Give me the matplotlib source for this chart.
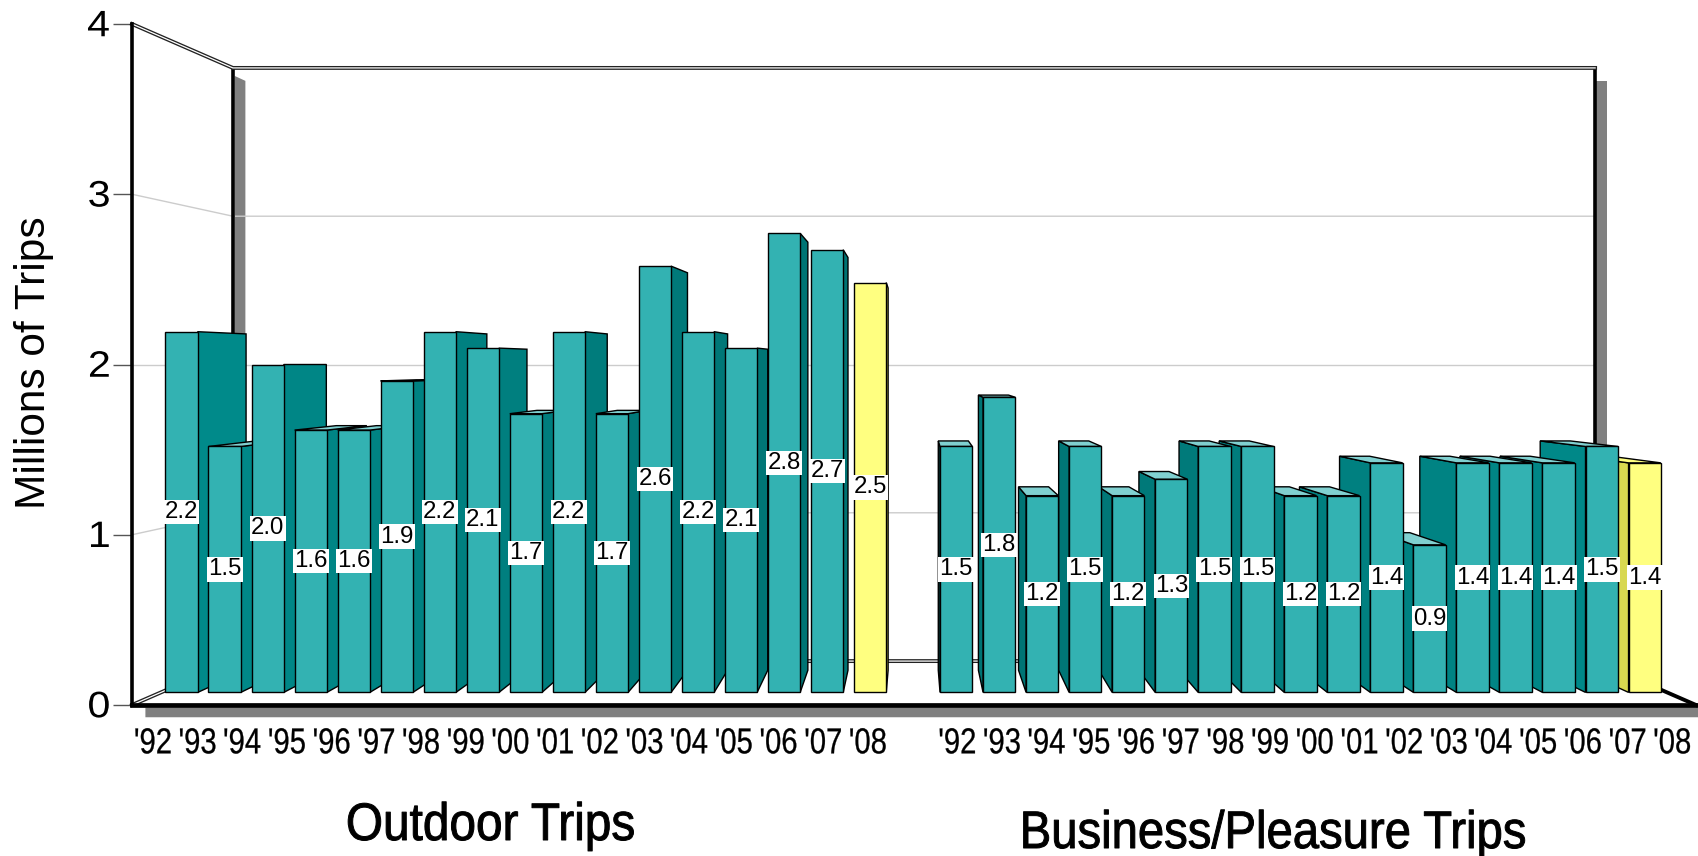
import matplotlib
matplotlib.use("Agg")
import matplotlib.pyplot as plt
from matplotlib.colors import to_rgb
from matplotlib.font_manager import FontProperties
from matplotlib.text import Text
from matplotlib.textpath import TextPath
from matplotlib.transforms import Affine2D

SANS = "Liberation Sans"

years = ["'92", "'93", "'94", "'95", "'96", "'97", "'98", "'99", "'00",
         "'01", "'02", "'03", "'04", "'05", "'06", "'07", "'08"]
outdoor_trips = [2.2, 1.5, 2.0, 1.6, 1.6, 1.9, 2.2, 2.1, 1.7,
                 2.2, 1.7, 2.6, 2.2, 2.1, 2.8, 2.7, 2.5]
business_trips = [1.5, 1.8, 1.2, 1.5, 1.2, 1.3, 1.5, 1.5, 1.2,
                  1.2, 1.4, 0.9, 1.4, 1.4, 1.4, 1.5, 1.4]
y_ticks = [0, 1, 2, 3, 4]

# perspective: every depth plane is the front plane scaled about the vanishing point
VP_X, VP_Y = 17, 2
WALL = 0.871
BAR_FRONT = 0.963
BAR_BACK = 0.898
BAR_WIDTH = 0.75
BAR_SHIFT = -0.02
LEFT, RIGHT = -0.5, 34.5

TEAL = "#33b2b2"
TEAL_TOP = "#80d0d0"
YELLOW = "#ffff80"
YELLOW_SIDE = "#d8d850"
SHADOW = "#808080"
GRID = "#cccccc"


class StretchedText(Text):
    # no condensed face available, so squeeze or widen the glyph outlines in x
    def __init__(self, x, y, text, sx=1.0, stroke=0.0, **kwargs):
        super().__init__(x, y, text, **kwargs)
        self.sx = sx
        self.stroke = stroke

    def _outline(self):
        path = TextPath((0, 0), self.get_text(), prop=self.get_fontproperties())
        box = path.get_extents()
        ha = self.get_horizontalalignment()
        ref = {"left": box.x0, "center": (box.x0 + box.x1) / 2, "right": box.x1}[ha]
        scale = self.get_figure().dpi / 72
        px, py = self.get_transform().transform(self.get_position())
        tr = Affine2D().translate(-ref, 0).scale(scale * self.sx, scale).translate(px, py)
        return path, tr

    def get_window_extent(self, renderer=None, dpi=None):
        path, tr = self._outline()
        return path.get_extents(tr)

    def draw(self, renderer):
        if not self.get_visible():
            return
        path, tr = self._outline()
        colour = to_rgb(self.get_color())
        gc = renderer.new_gc()
        gc.set_foreground(colour)
        gc.set_linewidth(self.stroke)
        gc.set_antialiased(True)
        renderer.draw_path(gc, path, tr, colour)
        gc.restore()


def stretched(ax, x, y, text, size, sx, ha="center", stroke=0.0):
    t = StretchedText(x, y, text, sx=sx, stroke=stroke, ha=ha, va="baseline", clip_on=False,
                      fontproperties=FontProperties(family=SANS, size=size),
                      transform=ax.transData, zorder=50)
    ax.add_artist(t)
    return t


def project(x, y, s):
    return VP_X + (x - VP_X) * s, VP_Y + (y - VP_Y) * s


def side_colour(slot):
    # side faces get lighter away from the middle of the chart
    g = int(0x70 + (0x8a - 0x70) * min(abs(slot - VP_X) / 17, 1))
    return "#00%02x%02x" % (g, g)


def poly(ax, points, colour, z):
    xs, ys = zip(*points)
    ax.fill(xs, ys, facecolor=colour, edgecolor="black", linewidth=1.0,
            zorder=z, clip_on=False)


def draw_bar(ax, slot, value, front_colour, top_colour, side, z):
    mid = slot + BAR_SHIFT
    l = mid - BAR_WIDTH / 2
    r = mid + BAR_WIDTH / 2
    # the side facing the middle of the chart is the one that shows
    edge = r if slot < VP_X else l
    poly(ax, [project(edge, 0, BAR_FRONT), project(edge, 0, BAR_BACK),
              project(edge, value, BAR_BACK), project(edge, value, BAR_FRONT)],
         side, z)
    if value < VP_Y:
        poly(ax, [project(l, value, BAR_FRONT), project(r, value, BAR_FRONT),
                  project(r, value, BAR_BACK), project(l, value, BAR_BACK)],
             top_colour, z)
    poly(ax, [project(l, 0, BAR_FRONT), project(r, 0, BAR_FRONT),
              project(r, value, BAR_FRONT), project(l, value, BAR_FRONT)],
         front_colour, z + 0.1)
    lx, ly = project(mid, value / 2, BAR_FRONT)
    ax.text(lx, ly, "%.1f" % value, ha="center", va="center", fontsize=17.3,
            family=SANS, zorder=100,
            bbox=dict(facecolor="white", edgecolor="none", pad=0.8))


def draw_walls(ax):
    for v in y_ticks[1:-1]:
        bx, by = project(LEFT, v, WALL)
        rx, _ = project(RIGHT, v, WALL)
        ax.plot([LEFT, bx, rx], [v, by, by], color=GRID, lw=1.0, zorder=3, clip_on=False)

    # grey drop shadows behind the wall uprights and under the floor
    shadow_w = 0.24
    left_x, top = project(LEFT, 4, WALL)
    right_x, _ = project(RIGHT, 4, WALL)
    _, bottom = project(LEFT, 0, WALL)
    ax.fill([left_x + 0.04, left_x + 0.04 + shadow_w, left_x + 0.04 + shadow_w, left_x + 0.04],
            [top - 0.047, top - 0.076, bottom, bottom], color=SHADOW, lw=0, zorder=2, clip_on=False)
    ax.fill([right_x + 0.02, right_x + 0.02 + shadow_w, right_x + 0.02 + shadow_w, right_x + 0.02],
            [top - 0.076, top - 0.076, bottom, bottom], color=SHADOW, lw=0, zorder=2, clip_on=False)
    ax.fill([-0.2, 34.55, 34.9, -0.2], [-0.015, -0.015, -0.072, -0.072],
            color=SHADOW, lw=0, zorder=1, clip_on=False)

    # uprights at the back of the box
    for x in (LEFT, RIGHT):
        bx, top = project(x, 4, WALL)
        _, bottom = project(x, 0, WALL)
        ax.plot([bx, bx], [top, bottom], color="black", lw=2.6, zorder=4,
                solid_capstyle="butt", clip_on=False)

    # double rules along the top and bottom of the back wall
    for v in (4, 0):
        lx, ly = project(LEFT, v, WALL)
        rx, _ = project(RIGHT, v, WALL)
        ax.plot([LEFT, lx, rx], [v, ly, ly], color="#222222", lw=2.8, zorder=5,
                solid_joinstyle="miter", clip_on=False)
        ax.plot([LEFT, lx, rx], [v, ly, ly], color="white", lw=0.9, zorder=5.1,
                solid_joinstyle="miter", clip_on=False)

    # floor edge running forward on the right
    rx, ry = project(RIGHT, 0, WALL)
    ax.plot([rx, RIGHT], [ry, 0], color="black", lw=2.8, zorder=5, clip_on=False)


def main():
    plt.rcParams["font.family"] = [SANS, "DejaVu Sans"]
    fig = plt.figure(figsize=(16.98, 8.56), dpi=100)
    ax = fig.add_axes([132 / 1698, 1 - 705 / 856, 1564 / 1698, 681 / 856])
    ax.set_xlim(LEFT, RIGHT)
    ax.set_ylim(0, 4)
    ax.patch.set_visible(False)

    for name in ("top", "right"):
        ax.spines[name].set_visible(False)
    ax.spines["left"].set_linewidth(2.6)
    ax.spines["bottom"].set_linewidth(3.4)
    ax.spines["left"].set_zorder(6)
    ax.spines["bottom"].set_zorder(6)

    n = len(years)
    outdoor_slots = list(range(n))
    business_slots = [n + 1 + i for i in range(n)]

    ax.set_yticks(y_ticks)
    ax.set_yticklabels([])
    ax.tick_params(axis="y", length=14, width=1.0, color="#555555")
    ax.set_xticks(outdoor_slots + business_slots)
    ax.set_xticklabels([])
    ax.tick_params(axis="x", length=0)
    ax.set_ylabel("Millions of Trips", fontsize=30.5, family=SANS)
    ax.yaxis.set_label_coords(-0.05, 0.503)

    # tick text is widened on the value axis and condensed on the year axis
    for v in y_ticks:
        stretched(ax, -1.02, v - 0.072, str(v), 26.5, 1.12, ha="right")
    for slot, year in zip(outdoor_slots + business_slots, years + years):
        stretched(ax, slot - 0.03, -0.284, year, 26, 0.81, stroke=0.2)

    draw_walls(ax)

    # draw from the outside in so nearer bars cover their neighbour's side
    for i, slot in enumerate(outdoor_slots):
        last = i == n - 1
        draw_bar(ax, slot, outdoor_trips[i], YELLOW if last else TEAL,
                 YELLOW if last else TEAL_TOP,
                 YELLOW_SIDE if last else side_colour(slot), 10 + i)
    for i in range(n - 1, -1, -1):
        slot = business_slots[i]
        last = i == n - 1
        draw_bar(ax, slot, business_trips[i], YELLOW if last else TEAL,
                 YELLOW if last else TEAL_TOP,
                 YELLOW_SIDE if last else side_colour(slot), 10 + n - i)

    stretched(ax, 7.53, -0.793, "Outdoor Trips", 38, 0.905, stroke=0.7)
    stretched(ax, 25.06, -0.84, "Business/Pleasure Trips", 38, 0.895, stroke=0.7)

    fig.savefig("out.png", dpi=100, facecolor="white")


if __name__ == "__main__":
    main()
